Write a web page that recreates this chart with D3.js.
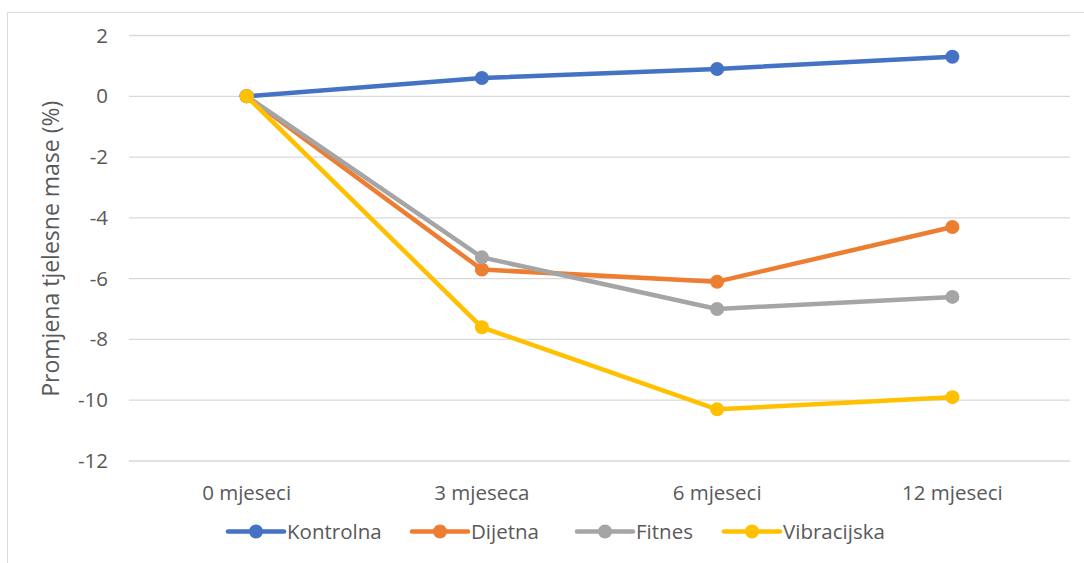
<!DOCTYPE html>
<html><head><meta charset="utf-8">
<script src="https://cdn.jsdelivr.net/npm/d3@7"></script>
<style>body{margin:0;background:#fff;} svg{display:block;font-family:"Open Sans", sans-serif;}</style>
</head><body>
<svg id="chart" width="1084" height="563"></svg>
<script>
const categories = ["0 mjeseci", "3 mjeseca", "6 mjeseci", "12 mjeseci"];
const seriesNames = ["Kontrolna", "Dijetna", "Fitnes", "Vibracijska"];
const kontrolna = [0, 0.6, 0.9, 1.3];
const dijetna = [0, -5.7, -6.1, -4.3];
const fitnes = [0, -5.3, -7.0, -6.6];
const vibracijska = [0, -7.6, -10.3, -9.9];
const yTicks = [2, 0, -2, -4, -6, -8, -10, -12];
const colors = ["#4472C4", "#ED7D31", "#A5A5A5", "#FFC000"];
const yTitle = "Promjena tjelesne mase (%)";

(function () {
const series = [kontrolna, dijetna, fitnes, vibracijska].map((v, i) => ({name: seriesNames[i], values: v, color: colors[i]}));

const svg = d3.select("#chart");
const pL = 129, pR = 1070, pT = 35.5, pB = 461;
const FF = "'Open Sans', sans-serif";

svg.append("rect").attr("x", 7.5).attr("y", 12.5).attr("width", 1200).attr("height", 700)
  .attr("fill", "none").attr("stroke", "#d9d9d9").attr("stroke-width", 1);

const x = d3.scaleBand().domain(categories).range([pL, pR]);
const y = d3.scaleLinear().domain([-12, 2]).range([pB, pT]);

svg.append("g").selectAll("line").data(yTicks).join("line")
  .attr("x1", pL).attr("x2", pR)
  .attr("y1", d => y(d)).attr("y2", d => y(d))
  .attr("stroke", "#d9d9d9").attr("stroke-width", 1.3);

const yAxis = d3.axisLeft(y).tickValues(yTicks).tickSize(0).tickPadding(0).tickFormat(d => d);
const gy = svg.append("g").attr("transform", `translate(108,0)`).call(yAxis);
gy.select(".domain").remove();
gy.selectAll("text").attr("fill", "#595959").style("font-size", "20.5px").style("font-family", FF);

const xAxis = d3.axisBottom(x).tickSize(0).tickPadding(0);
const gx = svg.append("g").attr("transform", `translate(0,${pB + 24})`).call(xAxis);
gx.select(".domain").remove();
gx.selectAll("text").attr("fill", "#595959").style("font-size", "20.5px").style("font-family", FF);

svg.append("text").attr("transform", `translate(59,${(pT + pB) / 2 + 0.5}) rotate(-90)`)
  .attr("text-anchor", "middle").attr("fill", "#595959").style("font-size", "23px").style("font-family", FF)
  .text(yTitle);

const line = d3.line().x((d, i) => x(categories[i]) + x.bandwidth() / 2).y(d => y(d));

const gs = svg.append("g");
series.forEach(s => {
  gs.append("path").attr("d", line(s.values)).attr("fill", "none")
    .attr("stroke", s.color).attr("stroke-width", 4.5).attr("stroke-linejoin", "round").attr("stroke-linecap", "round");
  gs.selectAll(null).data(s.values).join("circle")
    .attr("cx", (d, i) => x(categories[i]) + x.bandwidth() / 2).attr("cy", d => y(d))
    .attr("r", 7).attr("fill", s.color);
});

const legendX = [228, 412, 577, 724];
const lg = svg.append("g").attr("transform", "translate(0,531.5)");
series.forEach((s, i) => {
  const g = lg.append("g").attr("transform", `translate(${legendX[i]},0)`);
  g.append("line").attr("x1", 0).attr("x2", 56).attr("y1", 0).attr("y2", 0)
    .attr("stroke", s.color).attr("stroke-width", 4.5).attr("stroke-linecap", "round");
  g.append("circle").attr("cx", 28).attr("cy", 0).attr("r", 7).attr("fill", s.color);
  g.append("text").attr("x", 59).attr("y", 0).attr("dy", "0.35em").attr("fill", "#595959")
    .style("font-size", "20.5px").style("font-family", FF).text(s.name);
});
})();
</script>
</body></html>
